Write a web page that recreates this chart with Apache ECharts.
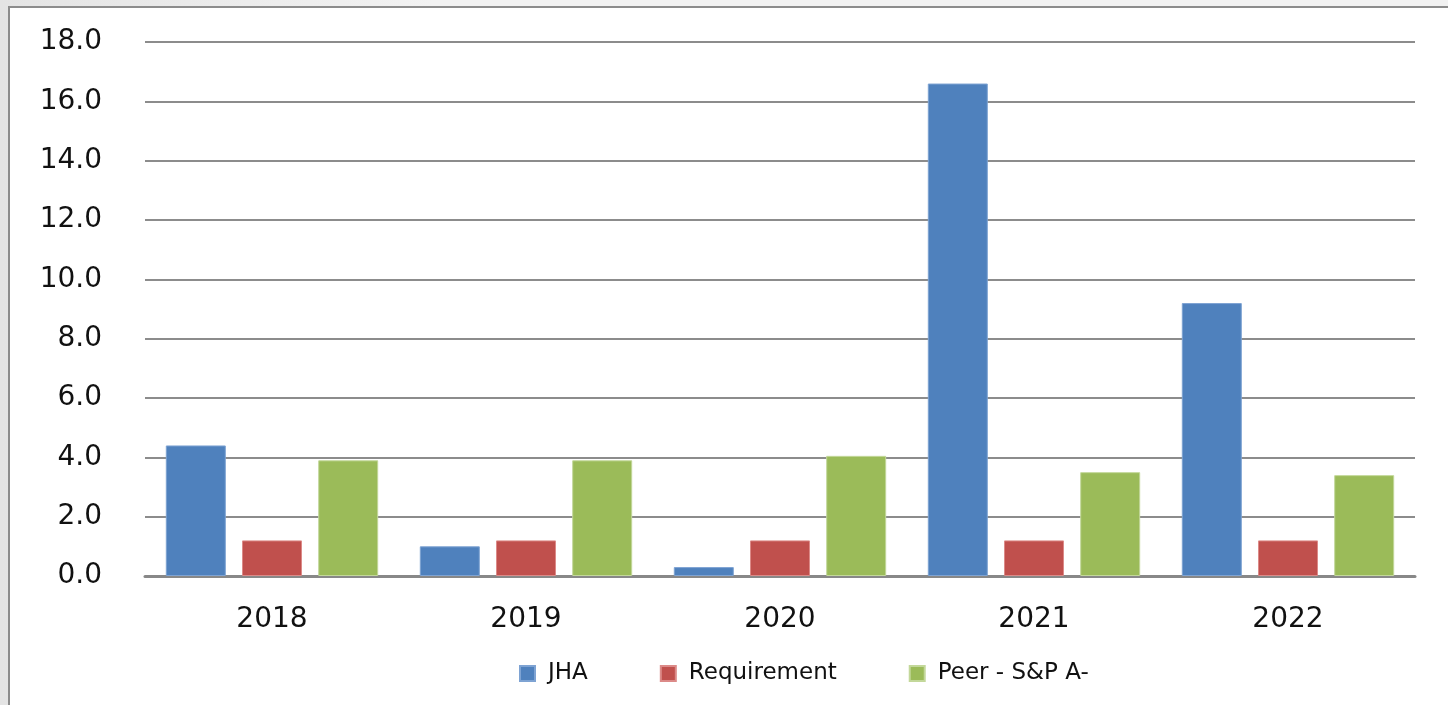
<!DOCTYPE html>
<html>
<head>
<meta charset="utf-8">
<script src="https://cdn.jsdelivr.net/npm/echarts@6/dist/echarts.min.js"></script>
<style>
  html, body { margin: 0; padding: 0; }
  body { width: 1448px; height: 705px; background: linear-gradient(90deg, #e4e4e4, #f2f2f2 30%, #f2f2f2); position: relative; overflow: hidden; }
  #frame { position: absolute; left: 8px; top: 6px; width: 1460px; height: 720px; background: #fff; border: 2px solid #8c8c8c; }
  #main { position: absolute; left: 0; top: 0; width: 1448px; height: 705px; }
</style>
</head>
<body>
<div id="frame"></div>
<div id="main"></div>
<script>
var years = ['2018', '2019', '2020', '2021', '2022'];
var jha = [4.4, 1.0, 0.3, 16.6, 9.2];
var requirement = [1.2, 1.2, 1.2, 1.2, 1.2];
var peer = [3.9, 3.9, 4.05, 3.5, 3.4];
var yTicks = [0, 2, 4, 6, 8, 10, 12, 14, 16, 18];

var myChart = echarts.init(document.getElementById('main'));

function barSeries(name, data, color, border) {
    return {
        name: name,
        type: 'bar',
        data: data,
        barWidth: 60,
        barGap: '27%',
        itemStyle: { color: color, borderColor: border, borderWidth: 1 }
    };
}

var option = {
    backgroundColor: 'transparent',
    animation: false,
    textStyle: { fontFamily: 'DejaVu Sans' },
    grid: { left: 145, right: 33, top: 42, bottom: 129 },
    legend: {
        bottom: 15,
        left: 514,
        itemWidth: 15,
        itemHeight: 15,
        itemGap: 72,
        icon: 'rect',
        textStyle: { fontSize: 23, color: '#111', fontFamily: 'DejaVu Sans', padding: [0, 0, 0, 8] },
        data: ['JHA', 'Requirement', 'Peer - S&P A-']
    },
    xAxis: {
        type: 'category',
        data: years,
        axisLine: { lineStyle: { color: '#888', width: 3 } },
        axisTick: { show: false },
        axisLabel: { fontSize: 28, color: '#111', margin: 30 }
    },
    yAxis: {
        type: 'value',
        min: yTicks[0],
        max: yTicks[yTicks.length - 1],
        interval: 2,
        axisLine: { show: false },
        axisTick: { show: false },
        splitLine: { lineStyle: { color: '#8c8c8c', width: 2 } },
        axisLabel: {
            fontSize: 28,
            color: '#111',
            margin: 43,
            formatter: function (v) { return v.toFixed(1); }
        }
    },
    series: [
        barSeries('JHA', jha, '#4f81bd', '#7ea3d3'),
        barSeries('Requirement', requirement, '#c0504d', '#dc8a88'),
        barSeries('Peer - S&P A-', peer, '#9bbb59', '#c3d89a')
    ]
};
myChart.setOption(option);
</script>
</body>
</html>
